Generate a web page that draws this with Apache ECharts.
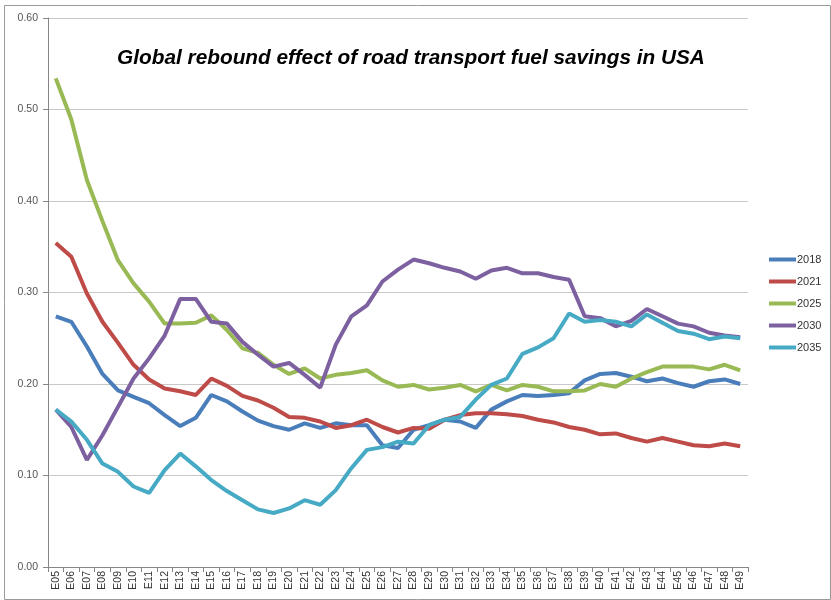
<!DOCTYPE html>
<html>
<head>
<meta charset="utf-8">
<script src="https://cdn.jsdelivr.net/npm/echarts@6/dist/echarts.min.js"></script>
<style>html,body{margin:0;padding:0;background:#fff}#c{width:831px;height:600px}</style>
</head>
<body>
<div id="c"></div>
<script>
const categories = ["E05","E06","E07","E08","E09","E10","E11","E12","E13","E14","E15","E16","E17","E18","E19","E20","E21","E22","E23","E24","E25","E26","E27","E28","E29","E30","E31","E32","E33","E34","E35","E36","E37","E38","E39","E40","E41","E42","E43","E44","E45","E46","E47","E48","E49"];
const s2018 = [0.274,0.268,0.241,0.211,0.193,0.186,0.179,0.166,0.154,0.163,0.188,0.181,0.170,0.160,0.154,0.150,0.157,0.152,0.157,0.155,0.155,0.133,0.130,0.150,0.155,0.161,0.159,0.152,0.172,0.181,0.188,0.187,0.188,0.190,0.204,0.211,0.212,0.208,0.203,0.206,0.201,0.197,0.203,0.205,0.200];
const s2021 = [0.354,0.339,0.299,0.268,0.245,0.221,0.205,0.195,0.192,0.188,0.206,0.198,0.187,0.182,0.174,0.164,0.163,0.159,0.152,0.155,0.161,0.153,0.147,0.152,0.151,0.161,0.166,0.168,0.168,0.167,0.165,0.161,0.158,0.153,0.150,0.145,0.146,0.141,0.137,0.141,0.137,0.133,0.132,0.135,0.132];
const s2025 = [0.534,0.489,0.423,0.378,0.335,0.310,0.290,0.266,0.266,0.267,0.275,0.259,0.239,0.234,0.221,0.211,0.217,0.206,0.210,0.212,0.215,0.204,0.197,0.199,0.194,0.196,0.199,0.192,0.199,0.193,0.199,0.197,0.192,0.192,0.193,0.200,0.197,0.206,0.213,0.219,0.219,0.219,0.216,0.221,0.215];
const s2030 = [0.172,0.153,0.117,0.144,0.175,0.206,0.228,0.253,0.293,0.293,0.268,0.266,0.246,0.232,0.219,0.223,0.210,0.196,0.243,0.274,0.286,0.312,0.325,0.336,0.332,0.327,0.323,0.315,0.324,0.327,0.321,0.321,0.317,0.314,0.274,0.272,0.263,0.269,0.282,0.274,0.266,0.263,0.256,0.253,0.251];
const s2035 = [0.172,0.159,0.139,0.113,0.104,0.088,0.081,0.106,0.124,0.110,0.095,0.083,0.073,0.063,0.059,0.064,0.073,0.068,0.084,0.108,0.128,0.131,0.137,0.135,0.155,0.161,0.164,0.183,0.199,0.206,0.233,0.240,0.250,0.277,0.268,0.270,0.268,0.263,0.276,0.267,0.258,0.255,0.249,0.252,0.250];
const seriesNames = ["2018","2021","2025","2030","2035"];
const yTicks = [0, 0.1, 0.2, 0.3, 0.4, 0.5, 0.6];

const colors = ["#4a7ebb","#be4b48","#98b954","#7d60a0","#46aac5"];
const allData = [s2018, s2021, s2025, s2030, s2035];

const chart = echarts.init(document.getElementById('c'));
chart.setOption({
  animation: false,
  color: colors,
  graphic: [{
    type: 'rect', left: 2, top: 3, shape: {width: 826, height: 594},
    style: {fill: 'none', stroke: '#9a9a9a', lineWidth: 1}, silent: true
  }],
  title: {
    text: 'Global rebound effect of road transport fuel savings in USA',
    left: 406, top: 43, textAlign: 'center',
    textStyle: {fontFamily: 'Liberation Sans', fontStyle: 'italic', fontWeight: 'bold', fontSize: 20.8, color: '#000'}
  },
  legend: {
    orient: 'vertical', left: 764, top: 249, itemGap: 11,
    itemWidth: 27, itemHeight: 4, icon: 'rect',
    textStyle: {fontFamily: 'Liberation Sans', fontSize: 11, color: '#333', padding: [0,0,0,-4]},
    data: seriesNames
  },
  grid: {left: 48, right: 83, top: 18, bottom: 33},
  xAxis: {
    type: 'category', data: categories, boundaryGap: true,
    axisLine: {lineStyle: {color: '#868686'}},
    axisTick: {show: true, interval: 0, length: 5, lineStyle: {color: '#868686'}},
    axisLabel: {interval: 0, rotate: 90, fontFamily: 'Liberation Sans', fontSize: 10.5, color: '#333', margin: 4}
  },
  yAxis: {
    type: 'value', min: 0, max: 0.6, interval: 0.1,
    axisLine: {show: true, lineStyle: {color: '#868686'}},
    axisTick: {show: true, length: 5, lineStyle: {color: '#868686'}},
    splitLine: {lineStyle: {color: '#c8c8c8'}},
    axisLabel: {fontFamily: 'Liberation Sans', fontSize: 10.5, color: '#555', margin: 10, formatter: v => v.toFixed(2)}
  },
  series: seriesNames.map((n, i) => ({
    name: n, type: 'line', data: allData[i], symbol: 'none',
    lineStyle: {width: 4, color: colors[i]}, itemStyle: {color: colors[i]}
  }))
});
</script>
</body>
</html>
